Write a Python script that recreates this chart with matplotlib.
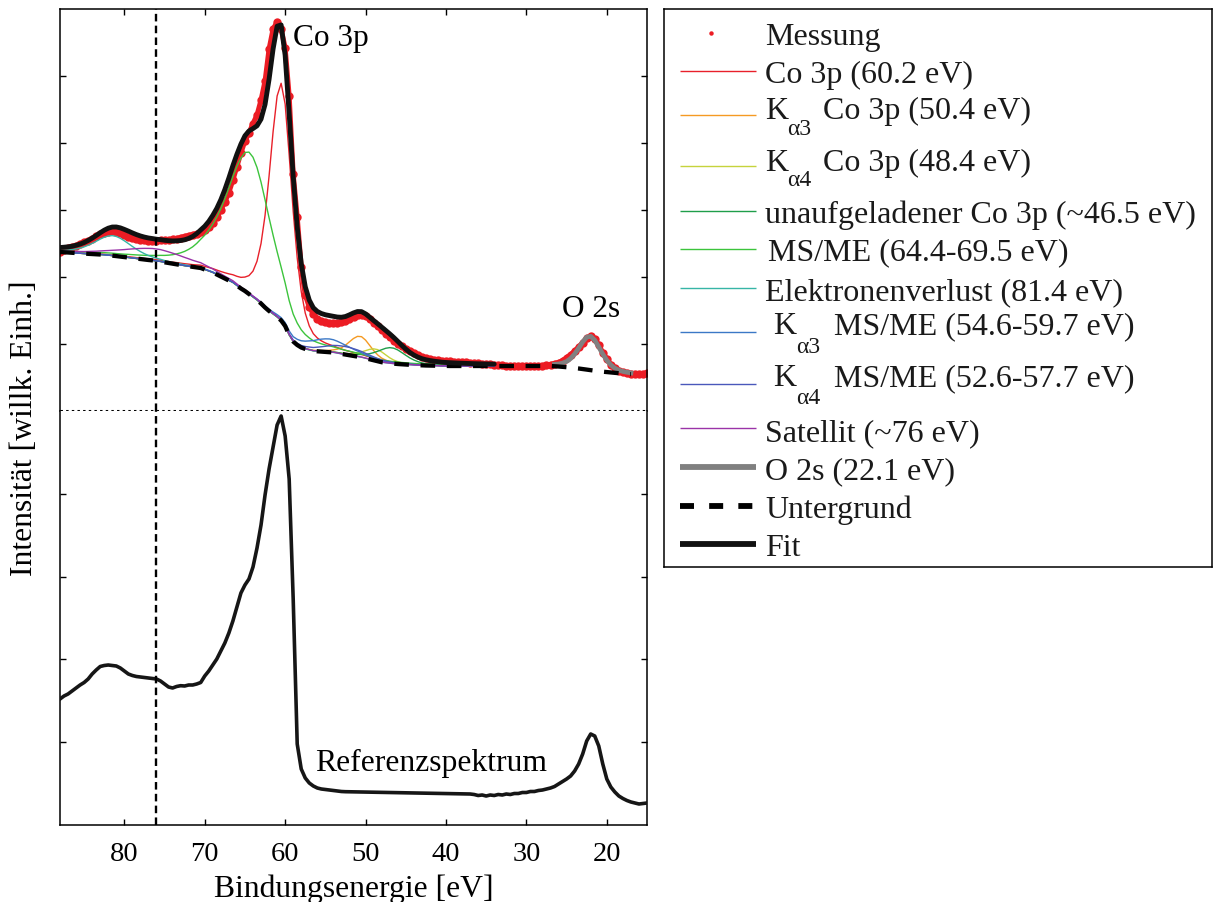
import numpy as np
import matplotlib
matplotlib.use("Agg")
import matplotlib.pyplot as plt

plt.rcParams["font.family"] = ["Liberation Serif", "DejaVu Serif"]
plt.rcParams["mathtext.fontset"] = "stix"

W, H = 1214, 903

# ---------------------------------------------------------------------------
# Spectra (binding energy in eV, intensity in arbitrary units)
# ---------------------------------------------------------------------------
energy = np.arange(88.0, 14.99, -0.5)            # 88 ... 15 eV, 0.5 eV steps

measured = np.array([
    159, 161, 163.5, 164.5, 165.5, 167.5, 169, 170.5, 172.5, 175,          # 88.0-83.5
    177, 178.5, 179.5, 180.3, 179.5, 178, 176, 174.5, 173.5, 172.5,        # 83.0-78.5
    171.5, 171, 170.5, 170.5, 170.5, 170.7, 171, 171.3, 171.8, 172.5,      # 78.0-73.5
    173.5, 174.5, 175.5, 176.5, 177.5, 179, 181.5, 184.5, 188.5, 194,      # 73.0-68.5
    201, 209, 218.5, 231, 244.5, 258, 270, 278, 287.5, 296,                # 68.0-63.5
    311, 330, 362, 382, 389, 382, 363, 315, 237, 194,                      # 63.0-58.5
    144, 116, 104, 97, 92.5, 90, 89, 88.5, 88, 88,                         # 58.0-53.5
    89, 90, 92, 94, 96, 96.5, 95, 92, 88.5, 85,                            # 53.0-48.5
    81, 77.5, 74, 70.5, 67.5, 65, 62.5, 60, 58, 56,                        # 48.0-43.5
    54.5, 53, 52, 51.5, 51, 50.5, 50, 49.7, 49.5, 49.3,                    # 43.0-38.5
    49, 48.7, 48.4, 48, 47.7, 47.4, 47, 46.7, 46.4, 46,                    # 38.0-33.5
    46, 45.5, 45.5, 45.5, 45.5, 45.5, 45.5, 45.5, 45.5, 45.5,              # 33.0-28.5
    45.5, 46, 46.5, 47.5, 48.5, 50.5, 53.5, 56.5, 60, 64,                  # 28.0-23.5
    68.5, 73, 75, 72, 66, 58.5, 52, 46.5, 43, 40.5,                        # 23.0-18.5
    39, 38, 37.5, 37, 37, 37.5, 38,                                        # 18.0-15.0
])

background = np.array([
    159, 158.8, 158.5, 158.2, 158, 157.7, 157.4, 157.2, 157, 156.7,        # 88.0-83.5
    156.5, 156.2, 155.8, 155.4, 154.9, 154.4, 153.9, 153.5, 153, 152.5,    # 83.0-78.5
    152, 151.5, 151, 150.6, 150, 149.5, 148.7, 148, 147.3, 146.7,          # 78.0-73.5
    146, 145.3, 144.7, 144, 143.5, 143, 141.5, 140, 138.5, 136.5,          # 73.0-68.5
    134.5, 132.5, 130.5, 128.5, 125.5, 122.5, 120, 117, 114, 111,          # 68.0-63.5
    107.5, 103.5, 100, 97, 94, 90.5, 85, 76, 69.5, 66,                     # 63.0-58.5
    63.5, 62, 61, 60, 59.7, 59.4, 59.1, 58.9, 58.5, 57.8,                  # 58.0-53.5
    57, 56.3, 55.7, 55, 54.4, 53.7, 52.7, 51.7, 50.7, 49.7,                # 53.0-48.5
    48.8, 48.2, 47.7, 47.3, 47, 46.7, 46.5, 46.2, 46, 45.8,                # 48.0-43.5
    45.6, 45.5, 45.4, 45.3, 45.2, 45, 45, 45, 45, 45,                      # 43.0-38.5
    45, 45, 45, 45, 45, 45, 45, 45, 45, 45,                                # 38.0-33.5
    45, 45, 45, 45, 45, 45, 45, 45, 45, 45,                                # 33.0-28.5
    45, 45, 45, 44.8, 44.5, 44.2, 43.8, 43.4, 43, 42.5,                    # 28.0-23.5
    42, 41.4, 40.8, 40.2, 39.7, 39.3, 38.9, 38.5, 38.1, 37.7,              # 23.0-18.5
    37.4, 37.1, 36.8,                                                      # 18.0-17.0
])
bg_energy = energy[:len(background)]

# reference spectrum (no data recorded between 52.5 and 37 eV)
ref_energy = np.concatenate([np.arange(88.0, 52.49, -0.5),
                             np.arange(37.0, 14.99, -0.5)])
reference = np.array([
    126, 129, 131, 134, 137, 140, 142.5, 146, 151, 155,                    # 88.0-83.5
    158.5, 159.5, 160, 159.5, 159, 157, 154, 151, 149.5, 148.5,            # 83.0-78.5
    148, 147.5, 147, 146.5, 146, 144, 141, 138, 137, 138.5,                # 78.0-73.5
    139.3, 139, 140, 140, 141, 142.5, 149, 154, 160, 166,                  # 73.0-68.5
    174, 182, 192, 204, 218, 232, 240, 246, 258, 277,                      # 68.0-63.5
    300, 330, 356, 378, 400, 409, 389, 346, 226, 81,                       # 63.0-58.5
    56, 47, 42, 39, 37, 36, 35.5, 35, 34.5, 34,                            # 58.0-53.5
    33.5, 33.3,                                                            # 53.0-52.5
    31, 30.5, 29.5, 30, 29, 30, 29.5, 30.5, 30, 31,                        # 37.0-32.5
    30.5, 31.5, 31.5, 32.5, 32.5, 33.5, 33.5, 34.5, 35, 36,                # 32.0-27.5
    37, 38.5, 41, 43.5, 46, 49, 54, 61, 71, 84,                            # 27.0-22.5
    91, 89, 79, 61, 46, 38, 33, 29, 26.5, 24.5,                            # 22.0-17.5
    23, 22, 21, 21.5, 22,                                                  # 17.0-15.0
])

# ---------------------------------------------------------------------------
# Fitted peak model
# ---------------------------------------------------------------------------
co_centers = [60.2, 50.4, 48.4, 46.5]          # Co 3p, K_a3, K_a4, uncharged
co_heights = [171, 15, 8.5, 11]
co_fwhm = [3.0, 3.0, 3.0, 4.0]
co_colors = ["#e8202a", "#f59a23", "#c6d33c", "#1f9e4a"]

ms_low = [64.4, 54.6, 52.6]                    # MS/ME, K_a3 MS/ME, K_a4 MS/ME
ms_high = [69.5, 59.7, 57.7]
ms_heights = [140, 13, 8]
ms_colors = ["#3cc43c", "#3b78c6", "#4a58bb"]
ms_fwhm = 6.4

loss_center, loss_height, loss_fwhm = 81.4, 20, 5.5
sat_center, sat_height, sat_fwhm = 76.0, 12, 10.0
o2s_center, o2s_height, o2s_fwhm = 22.1, 34, 3.3

fit_low_end = 34.0                              # Co 3p fit window: 88 ... 34 eV
o2s_window = (26.5, 17.0)

SPLIT_3P, RATIO_3P = 1.0, 0.5                  # 3p1/2 partner of each 3p line


def pseudo_voigt(e, center, height, fwhm, eta):
    x = (e - center) / (fwhm / 2.0)
    return height * (eta / (1.0 + x ** 2) + (1.0 - eta) * np.exp(-np.log(2) * x ** 2))


def co3p_line(e, center, height, fwhm):
    return (pseudo_voigt(e, center, height, fwhm, 0.5)
            + pseudo_voigt(e, center + SPLIT_3P, height * RATIO_3P, fwhm, 0.5))


def msme_band(e, low, high, height):
    return (pseudo_voigt(e, low, height, ms_fwhm, 0.45)
            + pseudo_voigt(e, high, height * 0.07, 6.0, 0.5))


win = bg_energy >= fit_low_end
e_fit = bg_energy[win]
bg_fit = background[win]

components = []    # (curve, colour) in legend order
for c, h, w, col in zip(co_centers, co_heights, co_fwhm, co_colors):
    components.append((co3p_line(e_fit, c, h, w), col))
components.insert(4, (msme_band(e_fit, ms_low[0], ms_high[0], ms_heights[0]), ms_colors[0]))
components.append((pseudo_voigt(e_fit, loss_center, loss_height, loss_fwhm, 0.5), "#36b5a6"))
for lo, hi, h, col in zip(ms_low[1:], ms_high[1:], ms_heights[1:], ms_colors[1:]):
    components.append((msme_band(e_fit, lo, hi, h), col))
components.append((pseudo_voigt(e_fit, sat_center, sat_height, sat_fwhm, 0.5), "#9a33a8"))

fit_curve = bg_fit + sum(c for c, _ in components)

o2s_mask = (bg_energy <= o2s_window[0]) & (bg_energy >= o2s_window[1])
o2s_curve = background[o2s_mask] + pseudo_voigt(bg_energy[o2s_mask], o2s_center,
                                                   o2s_height, o2s_fwhm, 0.4)

# ---------------------------------------------------------------------------
# Figure
# ---------------------------------------------------------------------------
fig = plt.figure(figsize=(W / 100, H / 100), dpi=100)


def px_axes(x0, y0, x1, y1):
    return fig.add_axes([x0 / W, 1 - y1 / H, (x1 - x0) / W, (y1 - y0) / H])


ax_top = px_axes(60, 10, 647, 412)
ax_bot = px_axes(60, 412, 647, 826)

MEAS_RED = "#ec1c24"
BG_DASH = (3.4, 2.7)

# upper panel: measurement with fit
ax_top.plot(energy, measured, color=MEAS_RED, lw=3.6, zorder=1, solid_capstyle="round")
ax_top.plot(energy, measured, "o", color=MEAS_RED, ms=6.0, mec="none", zorder=1)
for curve, col in components:
    ax_top.plot(e_fit, bg_fit + curve, color=col, lw=1.0, zorder=2)
ax_top.plot(bg_energy[o2s_mask], o2s_curve, color="#808080", lw=3.4, zorder=3)
ax_top.plot(bg_energy, background, color="black", lw=3.1, dashes=BG_DASH, zorder=4)
ax_top.plot(e_fit, fit_curve, color="#111111", lw=3.5, zorder=5, solid_capstyle="round")

ax_top.text(59.0, 366, "Co 3p", fontsize=22.5, ha="left", va="baseline")
ax_top.text(25.6, 95.3, "O 2s", fontsize=22.5, ha="left", va="baseline")

# lower panel: reference spectrum
ax_bot.plot(ref_energy, reference, color="#161616", lw=2.6, zorder=3)
ax_bot.text(56.3, 55.3, "Referenzspektrum", fontsize=22.8, ha="left", va="baseline")

for ax in (ax_top, ax_bot):
    ax.set_xlim(88, 15)
    ax.set_xticks([80, 70, 60, 50, 40, 30, 20])
    ax.axvline(sat_center, color="black", lw=1.7, dashes=(3.2, 1.8), zorder=6)
    for sp in ax.spines.values():
        sp.set_linewidth(1.1)
    ax.tick_params(direction="in", length=4.3, width=1.0, labelsize=20.5)

ax_top.set_ylim(0, 402)
ax_top.set_yticks(np.arange(67, 336, 67))
ax_top.spines["bottom"].set_visible(False)
ax_top.tick_params(axis="x", top=True, bottom=False, labelbottom=False)
ax_top.tick_params(axis="y", left=True, right=True, labelleft=False)
ax_top.axhline(0, color="black", lw=2.2, ls=(0, (0.8, 1.05)), clip_on=False, zorder=7)

ax_bot.set_ylim(0, 414)
ax_bot.set_yticks(np.linspace(82.8, 331.2, 4))
ax_bot.spines["top"].set_visible(False)
ax_bot.tick_params(axis="x", top=False, bottom=True, labelbottom=True, pad=11.5)
ax_bot.tick_params(axis="y", left=True, right=True, labelleft=False)

fig.text(353.5 / W, 1 - 897 / H, "Bindungsenergie [eV]", fontsize=22.8,
         ha="center", va="baseline")
fig.text(25 / W, 1 - 428 / H, "Intensität [willk. Einh.]", fontsize=22.8,
         rotation=90, ha="center", va="center")

# ---------------------------------------------------------------------------
# Legend box (pixel layout)
# ---------------------------------------------------------------------------
leg = px_axes(664, 10, 1212, 568)
leg.set_xlim(664, 1212)
leg.set_ylim(568, 10)
leg.set_xticks([])
leg.set_yticks([])
for sp in leg.spines.values():
    sp.set_linewidth(1.1)

LFS = 23.0
SFS = 17.0
thin = dict(lw=1.0)
entries = [
    # (handle style, line y, [(x, baseline, text, fontsize), ...])
    ("dot", 33.5, [(765, 45, "Messung", LFS)]),
    (dict(color=co_colors[0], **thin), 71.7, [(765, 83.3, "Co 3p (60.2 eV)", LFS)]),
    (dict(color=co_colors[1], **thin), 116, [(765, 119.3, "K", LFS), (787, 135, "α3", SFS),
                                              (822.5, 119.3, "Co 3p (50.4 eV)", LFS)]),
    (dict(color=co_colors[2], **thin), 166.7, [(765, 170.7, "K", LFS), (787, 186, "α4", SFS),
                                                (822.5, 170.7, "Co 3p (48.4 eV)", LFS)]),
    (dict(color=co_colors[3], **thin), 211.7, [(765, 222.7, "unaufgeladener Co 3p (~46.5 eV)", LFS)]),
    (dict(color=ms_colors[0], **thin), 250, [(767.8, 260, "MS/ME (64.4-69.5 eV)", LFS)]),
    (dict(color="#36b5a6", **thin), 289, [(765, 300.7, "Elektronenverlust (81.4 eV)", LFS)]),
    (dict(color=ms_colors[1], **thin), 333.3, [(773, 334, "K", LFS), (796, 352.7, "α3", SFS),
                                                (834, 334, "MS/ME (54.6-59.7 eV)", LFS)]),
    (dict(color=ms_colors[2], **thin), 385, [(773, 386, "K", LFS), (796, 404, "α4", SFS),
                                              (834, 386, "MS/ME (52.6-57.7 eV)", LFS)]),
    (dict(color="#9a33a8", **thin), 429.3, [(765, 441, "Satellit (~76 eV)", LFS)]),
    (dict(color="#808080", lw=4.2), 468.3, [(765, 479.3, "O 2s (22.1 eV)", LFS)]),
    (dict(color="black", lw=4.2, dashes=(2.4, 2.6)), 506.7, [(765, 517.7, "Untergrund", LFS)]),
    (dict(color="#111111", lw=4.2), 545, [(765, 556, "Fit", LFS)]),
]
for style, ly, texts in entries:
    if style == "dot":
        leg.plot([711], [ly], "o", color=MEAS_RED, ms=3.2, mec="none")
    else:
        leg.plot([680, 756], [ly, ly], solid_capstyle="butt", dash_capstyle="butt", **style)
    for tx, ty, s, fs in texts:
        leg.text(tx, ty, s, fontsize=fs, ha="left", va="baseline", color="#1a1a1a")

fig.savefig("out.png", dpi=100)
